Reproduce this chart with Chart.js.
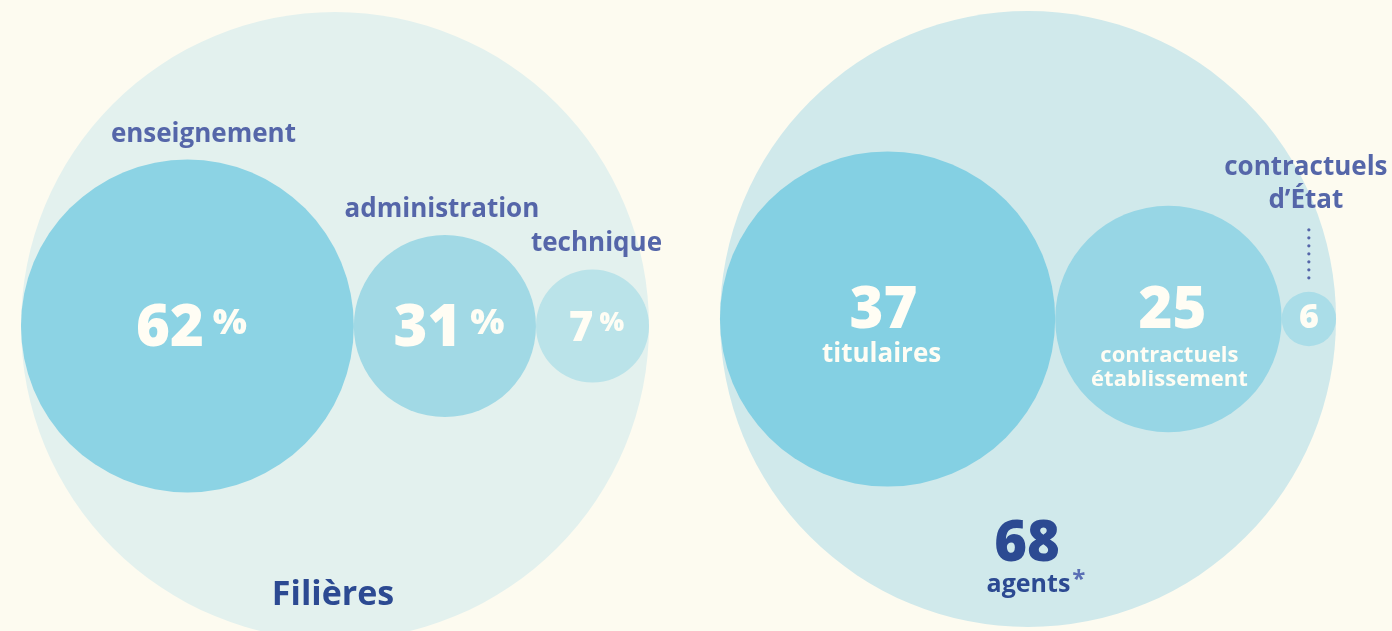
<!DOCTYPE html>
<html lang="fr">
<head>
<meta charset="utf-8">
<title>Filières et agents</title>
<script src="https://cdn.jsdelivr.net/npm/chart.js@4/dist/chart.umd.min.js"></script>
<style>
  html, body { margin: 0; padding: 0; background: #fdfbf0; }
  .wrap { display: flex; width: 1392px; height: 631px; overflow: hidden; }
  .panel { width: 696px; height: 631px; }
  canvas { display: block; }
</style>
</head>
<body>
<div class="wrap">
  <div class="panel"><canvas id="filieres" width="696" height="631"></canvas></div>
  <div class="panel"><canvas id="agents" width="696" height="631"></canvas></div>
</div>
<script>
// ── Données ──
const filieres = ['enseignement', 'administration', 'technique'];
const partsFilieres = [62, 31, 7];
const titreFilieres = 'Filières';

const statuts = ['titulaires', 'contractuels établissement', 'contractuels d’État'];
const effectifs = [37, 25, 6];
const totalAgents = 68;
const libelleTotal = 'agents';

// ── Couleurs ──
const BLEU_LABEL = '#5566a9';
const MARINE = '#2c4a92';
const BLANC = '#fffdf4';
const POLICE = '"Open Sans", "DejaVu Sans", sans-serif';

// rayon en pixels à partir d'un diamètre en unités de l'axe x
function rayon(chart, d) {
  const s = chart.scales && chart.scales.x;
  if (!s || !s.width) return 0;
  return Math.abs(s.getPixelForValue(d / 2) - s.getPixelForValue(0));
}

// cercles intérieurs accolés de gauche à droite dans le grand cercle
function empiler(diametres) {
  const D = diametres.reduce((a, b) => a + b, 0);
  let gauche = -D / 2;
  return diametres.map(d => {
    const p = { x: gauche + d / 2, y: 0 };
    gauche += d;
    return p;
  });
}

function creerCercles(id, cfg) {
  const W = 696, H = 631;
  const k = cfg.echelle;
  const points = empiler(cfg.diametres);
  return new Chart(document.getElementById(id), {
    type: 'scatter',
    data: {
      datasets: [
        {
          data: points,
          pointBackgroundColor: cfg.couleurs,
          pointBorderWidth: 0,
          pointRadius: ctx => rayon(ctx.chart, cfg.diametres[ctx.dataIndex]),
          pointHoverRadius: ctx => rayon(ctx.chart, cfg.diametres[ctx.dataIndex]),
          clip: false,
          order: 0
        },
        {
          data: [{ x: 0, y: 0 }],
          pointBackgroundColor: cfg.couleurTotal,
          pointBorderWidth: 0,
          pointRadius: ctx => rayon(ctx.chart, cfg.diametreTotal),
          pointHoverRadius: ctx => rayon(ctx.chart, cfg.diametreTotal),
          clip: false,
          order: 1
        }
      ]
    },
    options: {
      responsive: false,
      animation: false,
      events: [],
      layout: { padding: 0, autoPadding: false },
      plugins: { legend: { display: false }, tooltip: { enabled: false } },
      scales: {
        x: { display: false, min: -cfg.cx / k, max: (W - cfg.cx) / k },
        y: { display: false, min: -(H - cfg.cy) / k, max: cfg.cy / k }
      }
    },
    plugins: [{ id: 'textes', afterDatasetsDraw: cfg.textes }]
  });
}

// ── 1. Filières (parts en %) ──
creerCercles('filieres', {
  diametres: [53, 29, 18],      // tailles affichées des cercles
  diametreTotal: 100,
  echelle: 6.28, cx: 335, cy: 326,
  couleurs: ['#8cd3e4', '#a1d9e5', '#bae3e9'],
  couleurTotal: '#e3f1ee',
  textes(chart) {
    const c = chart.ctx;
    const els = chart.getDatasetMeta(0).data;
    const tot = chart.getDatasetMeta(1).data[0];
    const decal = [16, -3, 4];
    c.save();
    c.textBaseline = 'alphabetic';
    els.forEach((el, i) => {
      const r = el.options.radius;
      // libellé de la filière
      c.fillStyle = BLEU_LABEL;
      c.textAlign = 'center';
      c.font = '700 26px ' + POLICE;
      c.fillText(filieres[i], el.x + decal[i], el.y - r - 18);
      // pourcentage
      const fs = Math.round(Math.min(58, r * 0.75));
      const fp = Math.round(fs * 0.62);
      const chiffres = String(partsFilieres[i]);
      c.font = '800 ' + fs + 'px ' + POLICE;
      const w1 = c.measureText(chiffres).width;
      c.font = '800 ' + fp + 'px ' + POLICE;
      const w2 = c.measureText('%').width;
      const gap = fs * 0.15;
      const x0 = el.x + 4 - (w1 + gap + w2) / 2;
      const base = el.y + fs * 0.35;
      c.fillStyle = BLANC;
      c.textAlign = 'left';
      c.font = '800 ' + fs + 'px ' + POLICE;
      c.fillText(chiffres, x0, base);
      c.font = '800 ' + fp + 'px ' + POLICE;
      c.fillText('%', x0 + w1 + gap, base - fs * 0.22);
    });
    // titre
    c.fillStyle = MARINE;
    c.textAlign = 'center';
    c.font = '700 34px ' + POLICE;
    c.fillText(titreFilieres, tot.x - 2, tot.y + tot.options.radius - 35);
    c.restore();
  }
});

// ── 2. Agents (effectifs) ──
creerCercles('agents', {
  diametres: effectifs.map(v => v * 2),
  diametreTotal: totalAgents * 2,
  echelle: 4.53, cx: 332, cy: 319,
  couleurs: ['#84d0e3', '#97d6e5', '#aadde8'],
  couleurTotal: '#d0e9eb',
  textes(chart) {
    const c = chart.ctx;
    const els = chart.getDatasetMeta(0).data;
    const tot = chart.getDatasetMeta(1).data[0];
    const decalNb = [-4, 4];
    const decalTxt = [-6, 1];
    c.save();
    c.textBaseline = 'alphabetic';
    c.textAlign = 'center';
    els.forEach((el, i) => {
      const r = el.options.radius;
      const lignes = statuts[i].split(' ');
      if (r > 60) {
        // effectif + libellé à l'intérieur
        c.fillStyle = BLANC;
        c.font = '800 58px ' + POLICE;
        c.fillText(String(effectifs[i]), el.x + decalNb[i], el.y + 9);
        const fl = lignes.length > 1 ? 22 : 26;
        c.font = '700 ' + fl + 'px ' + POLICE;
        lignes.forEach((l, j) => {
          c.fillText(l, el.x + decalTxt[i], el.y + 43 + j * 23.5);
        });
      } else {
        // petit cercle : chiffre dedans, libellé au-dessus
        c.fillStyle = BLANC;
        c.font = '800 34px ' + POLICE;
        c.fillText(String(effectifs[i]), el.x, el.y + 9);
        c.fillStyle = BLEU_LABEL;
        c.font = '700 26px ' + POLICE;
        const b2 = el.y - r - 84;
        c.fillText(lignes[0], el.x - 3, b2 - 33);
        c.fillText(lignes[1], el.x - 3, b2);
        // pointillés
        for (let y = el.y - r - 62; y <= el.y - r - 13; y += 8) {
          c.beginPath();
          c.arc(el.x, y, 1.6, 0, Math.PI * 2);
          c.fill();
        }
      }
    });
    // total
    c.fillStyle = MARINE;
    c.font = '800 56px ' + POLICE;
    c.fillText(String(totalAgents), tot.x - 1, tot.y + 242);
    c.font = '700 25px ' + POLICE;
    const wa = c.measureText(libelleTotal).width;
    c.font = '700 24px ' + POLICE;
    const ws = c.measureText('*').width;
    const xa = tot.x + 8 - (wa + 2 + ws) / 2;
    c.textAlign = 'left';
    c.font = '700 25px ' + POLICE;
    c.fillText(libelleTotal, xa, tot.y + 273);
    c.fillStyle = '#5a6fb5';
    c.font = '700 24px ' + POLICE;
    c.fillText('*', xa + wa + 2, tot.y + 268);
    c.restore();
  }
});
</script>
</body>
</html>
